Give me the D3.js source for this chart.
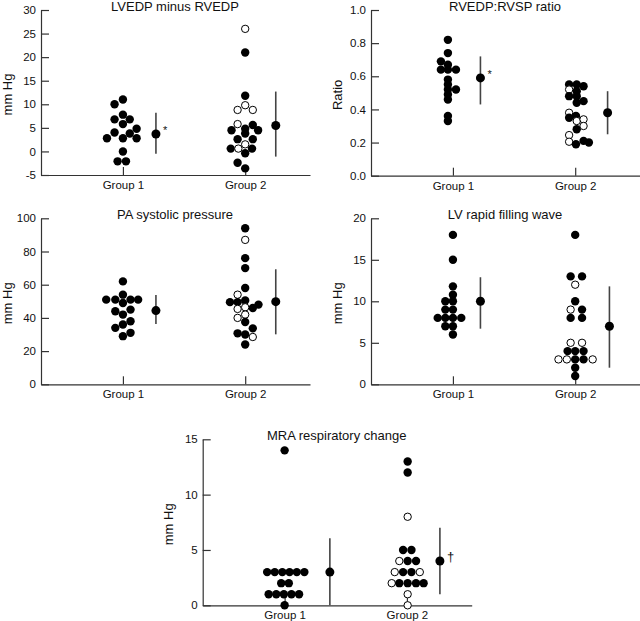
<!DOCTYPE html>
<html>
<head>
<meta charset="utf-8">
<script src="https://cdn.jsdelivr.net/npm/d3@7/dist/d3.min.js"></script>
<style>
  html, body { margin: 0; padding: 0; background: #fff; }
  svg { display: block; }
  text { font-family: "Liberation Sans", Arial, Helvetica, sans-serif; fill: #111; }
</style>
</head>
<body>
<svg id="chart" width="640" height="621"></svg>
<script>
// ---------- DATA ----------
// groups on the x axis
const groups = [1, 2];
const groupLabels = ["Group 1", "Group 2"];

// Panel titles and y axis labels
const titles = ["LVEDP minus RVEDP", "RVEDP:RVSP ratio", "PA systolic pressure", "LV rapid filling wave", "MRA respiratory change"];
const yTitles = ["mm Hg", "Ratio", "mm Hg", "mm Hg", "mm Hg"];

// Y tick values per panel
const ticksLvedp = [-5, 0, 5, 10, 15, 20, 25, 30];
const ticksRatio = [0.0, 0.2, 0.4, 0.6, 0.8, 1.0];
const ticksPa = [0, 20, 40, 60, 80, 100];
const ticksLv = [0, 5, 10, 15, 20];
const ticksMra = [0, 5, 10, 15];

// Individual points: [value, column slot in the dot plot, open(1)/filled(0)]
const lvedpG1 = [[11,0,0],[10,-1.1,0],[7.8,0,0],[6.8,-1.1,0],[6.8,0.9,0],[5.8,0,0],[4.8,1.8,0],[4,-1.1,0],[3.8,0.9,0],[2.8,-2.1,0],[2.8,0,0],[2.8,1.8,0],[0,0,0],[-2.1,-0.7,0],[-2.1,0.4,0]];
const lvedpG2 = [[26,0,1],[21,0,0],[11.8,0,0],[9.8,0,1],[8.8,-1,1],[8.8,1,1],[5.8,-1,1],[5.6,1,0],[4.8,0,0],[4.5,-1.8,0],[4.5,1.7,0],[3.8,0,0],[2.6,-1,0],[2.6,1,0],[1.5,0,1],[0.6,-1.9,0],[0.6,-0.9,1],[0.6,0.9,0],[-0.4,0,0],[-2.4,-1,0],[-3.6,0,0]];

const ratioG1 = [[0.82,-0.66,0],[0.74,-0.66,0],[0.69,-1.58,0],[0.67,-0.66,0],[0.64,-1.58,0],[0.64,-0.66,0],[0.64,0.4,0],[0.58,-0.66,0],[0.55,-0.66,0],[0.52,-0.66,0],[0.49,-0.66,0],[0.46,-0.66,0],[0.52,0.4,0],[0.36,-0.66,0],[0.33,-0.66,0]];
const ratioG2 = [[0.55,-0.8,0],[0.55,0.2,0],[0.54,1.1,0],[0.52,-0.8,1],[0.51,0.2,0],[0.48,-0.8,0],[0.48,0.2,0],[0.45,1.1,0],[0.44,0.2,0],[0.38,-0.8,1],[0.35,-0.8,0],[0.36,0.1,0],[0.33,0.2,1],[0.34,1.1,1],[0.28,0.2,0],[0.30,1.1,1],[0.245,-0.8,1],[0.205,-0.8,1],[0.19,0.1,0],[0.21,1.1,0],[0.20,1.8,0]];

const paG1 = [[62,0,0],[54,0,0],[51,-1,0],[51,-2.2,0],[51,1,0],[51,2,0],[49,0,0],[44,-1,0],[45,1,0],[42,0,0],[38,1,0],[36,0,0],[34,-1,0],[31,1,0],[29,0,0]];
const paG2 = [[94,0,0],[87,0,1],[76,0,0],[70,0,0],[58,0,0],[54,-1,1],[50.5,0,0],[49.5,-2,0],[49.5,-1,0],[48,1.75,0],[46,1,0],[45.4,-1,1],[46.4,0,1],[42,0,1],[40,-1,1],[37.5,0,0],[33.7,1,0],[30.7,-1,0],[30,0,0],[28.5,1,1],[24,0,0]];

const lvG1 = [[18,0,0],[15,0,0],[11.8,0,0],[10.8,0,0],[10,-1,0],[10,0,0],[9,-1,0],[9,0,0],[8,-2,0],[8,-1,0],[8,0,0],[8,1.1,0],[7,-1,0],[7,0,0],[6,0,0]];
const lvG2 = [[18,0,0],[13,-0.6,0],[13,0.9,0],[12,0,1],[10,0,0],[9,-0.6,1],[9,0.9,0],[8,-0.6,0],[8,0.9,0],[5,-0.6,1],[5,0.9,1],[4,-1,0],[4,0,0],[4,1.1,0],[3,-2.2,1],[3,-1.1,1],[3,0,0],[3,1.1,0],[3,2.3,1],[2,0,0],[1,0,0]];

const mraG1 = [[14,0,0],[3,-2.3,0],[3,-1.3,0],[3,-0.3,0],[3,0.65,0],[3,1.6,0],[3,2.6,0],[2,-0.45,0],[2,0.55,0],[1,-2.1,0],[1,-1.1,0],[1,-0.1,0],[1,0.9,0],[1,1.9,0],[0,0,0]];
const mraG2 = [[13,0.1,0],[12,0.1,0],[8,0.1,1],[5,-0.5,0],[5,0.6,0],[4,-1,1],[4,0.1,0],[4,1.2,0],[3,-1.6,1],[3,-0.5,0],[3,0.6,0],[3,1.7,1],[2,-2,1],[2,-1,0],[2,0.1,0],[2,1.2,0],[2,2.2,0],[1,0.1,1],[0,0.1,1]];

// Summary per group: [central value, lower, upper]
const lvedpSummary = [[3.7,-0.5,8.2],[5.5,-1.1,12.7]];
const ratioSummary = [[0.59,0.43,0.72],[0.38,0.25,0.51]];
const paSummary = [[44.4,36.3,53.8],[49.8,30.1,69.3]];
const lvSummary = [[10,6.7,12.9],[7,2,11.8]];
const mraSummary = [[3,0,6.05],[4,1,7]];

// Significance marks next to summaries
const lvedpMarks = ["*", ""];
const ratioMarks = ["*", ""];
const paMarks = ["", ""];
const lvMarks = ["", ""];
const mraMarks = ["", "\u2020"];

// ---------- LAYOUT ----------
const panels = [
  {title: titles[0], yTitle: yTitles[0], ticks: ticksLvedp, fmt: d => d, g: [lvedpG1, lvedpG2], s: lvedpSummary, m: lvedpMarks,
   ax: 41, top: 10, bot: 175, sx: [1.27, 2.25]},
  {title: titles[1], yTitle: yTitles[1], ticks: ticksRatio, fmt: d3.format(".1f"), g: [ratioG1, ratioG2], s: ratioSummary, m: ratioMarks,
   ax: 371, top: 10, bot: 175.7, sx: [1.225, 2.265]},
  {title: titles[2], yTitle: yTitles[2], ticks: ticksPa, fmt: d => d, g: [paG1, paG2], s: paSummary, m: paMarks,
   ax: 41, top: 218.3, bot: 384.3, sx: [1.27, 2.25]},
  {title: titles[3], yTitle: yTitles[3], ticks: ticksLv, fmt: d => d, g: [lvG1, lvG2], s: lvSummary, m: lvMarks,
   ax: 371, top: 218.3, bot: 384.3, sx: [1.225, 2.28]},
  {title: titles[4], yTitle: yTitles[4], ticks: ticksMra, fmt: d => d, g: [mraG1, mraG2], s: mraSummary, m: mraMarks,
   ax: 202.7, top: 439.3, bot: 605.3, sx: [1.37, 2.27]}
];

const svg = d3.select("#chart");
const axisColor = "#333";
const R = 4.2;
const slot = d3.scaleLinear().domain([0, 1]).range([0, 7.6]);

panels.forEach(p => {
  const g = svg.append("g");
  const y = d3.scaleLinear().domain([p.ticks[0], p.ticks[p.ticks.length - 1]]).range([p.bot, p.top]);
  const x = d3.scaleLinear().domain([0.33, 2.53]).range([p.ax, p.ax + 269]);

  // y axis (inward ticks)
  const ya = g.append("g").attr("transform", `translate(${p.ax},0)`)
    .call(d3.axisLeft(y).tickValues(p.ticks).tickFormat(p.fmt).tickSize(-8).tickSizeOuter(0).tickPadding(5));
  // x axis
  const xa = g.append("g").attr("transform", `translate(0,${p.bot})`)
    .call(d3.axisBottom(x).tickValues(groups).tickFormat((d, i) => groupLabels[i]).tickSize(-8).tickSizeOuter(0).tickPadding(6));
  [ya, xa].forEach(a => {
    a.selectAll("path,line").attr("stroke", axisColor).attr("stroke-width", 1.2);
    a.selectAll("text").attr("fill", "#111").style("font-size", "11.5px")
      .style("font-family", '"Liberation Sans", Arial, sans-serif');
  });

  // title
  g.append("text").attr("x", p.ax + 134).attr("y", p.top + 0.5)
    .attr("text-anchor", "middle").style("font-size", "13px").text(p.title);
  // y title
  g.append("text")
    .attr("transform", `translate(${p.ax - 29.5},${(p.top + p.bot) / 2 + 2}) rotate(-90)`)
    .attr("text-anchor", "middle").style("font-size", "13px").text(p.yTitle);

  // dots
  p.g.forEach((pts, gi) => {
    g.append("g").selectAll("circle").data(pts).join("circle")
      .attr("cx", d => x(groups[gi]) + slot(d[1]))
      .attr("cy", d => y(d[0]))
      .attr("r", d => d[2] ? R - 0.5 : R)
      .attr("fill", d => d[2] ? "#fff" : "#000")
      .attr("stroke", "#000")
      .attr("stroke-width", d => d[2] ? 1 : 0);
  });

  // summaries
  p.s.forEach((s, gi) => {
    const cx = x(p.sx[gi]);
    g.append("line").attr("x1", cx).attr("x2", cx).attr("y1", y(s[1])).attr("y2", y(s[2]))
      .attr("stroke", "#444").attr("stroke-width", 1.6);
    g.append("circle").attr("cx", cx).attr("cy", y(s[0])).attr("r", R + 0.3).attr("fill", "#000");
    if (p.m[gi]) {
      const isStar = p.m[gi] === "*";
      g.append("text").attr("x", cx + 7).attr("y", y(s[0]))
        .style("font-size", isStar ? "11px" : "13px").attr("fill", "#000").text(p.m[gi]);
    }
  });
});
</script>
</body>
</html>
